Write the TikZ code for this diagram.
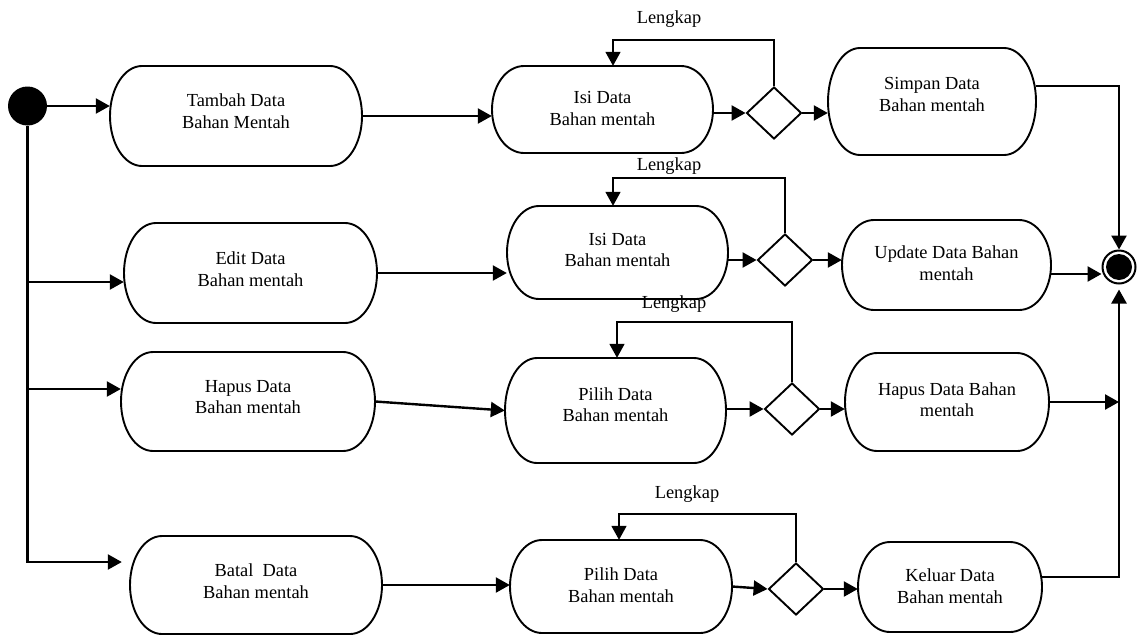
\documentclass[tikz,border=0pt]{standalone}
\usepackage{fontspec}
\setmainfont{Liberation Serif}
\usetikzlibrary{arrows.meta, shapes.geometric}

\tikzset{
  boxnode/.style={rectangle, draw=none, inner sep=0pt},
  boxline/.style={line width=1.9pt},
  boxtext/.style={align=center, inner sep=0pt, font=\fontsize{18.4}{21.5}\selectfont},
  guard/.style={inner sep=0pt, font=\fontsize{18.4}{21.5}\selectfont},
  decision/.style={diamond, draw, line width=1.9pt, inner sep=0pt,
                   minimum width=55pt, minimum height=52pt},
  tip/.style={-{Triangle[length=14pt, width=15pt]}},
  flow/.style={line width=2.4pt, tip},
  loopback/.style={line width=1.7pt, tip},
}

% activity box: name, left x, right x, top y, bottom y, text y, text
% (y values are measured downwards from the top edge)
\newcommand{\actbox}[7]{%
  \pgfmathsetmacro{\bxl}{#2}\pgfmathsetmacro{\bxr}{#3}%
  \pgfmathsetmacro{\byt}{-(#4)}\pgfmathsetmacro{\byb}{-(#5)}%
  \pgfmathsetmacro{\bry}{(#5-#4)/2}\pgfmathsetmacro{\brx}{32}%
  \node[boxnode, minimum width={#3-#2}, minimum height={#5-#4}] (#1)
       at ({(#2+#3)/2},{-(#4+#5)/2}) {};
  \draw[boxline] ({\bxl+\brx},\byt) -- ({\bxr-\brx},\byt)
     arc[start angle=90, end angle=-90, x radius=\brx pt, y radius=\bry pt]
     -- ({\bxl+\brx},\byb)
     arc[start angle=270, end angle=90, x radius=\brx pt, y radius=\bry pt]
     -- cycle;
  \node[boxtext] (#1-t) at ({(#2+#3)/2},{-(#6)}) {#7};
}

\begin{document}
\begin{tikzpicture}[x=1pt, y=1pt]
\useasboundingbox (0,0) rectangle (1139,-635);

% initial and final states
\node[circle, fill, minimum size=39pt, inner sep=0pt] (start) at (27.5,-106) {};
\node[circle, draw, line width=2pt, minimum size=33pt, inner sep=0pt] (final) at (1119,-267) {};
\node[circle, fill, minimum size=26pt, inner sep=0pt] (final-dot) at (final) {};

% activities
\actbox{tambah}{110}{362}{66}{166}{111}{Tambah Data\\Bahan Mentah}
\actbox{isi1}{492}{713}{66}{153}{108.5}{Isi Data\\Bahan mentah}
\actbox{simpan}{828}{1036}{48}{155}{94.5}{Simpan Data\\Bahan mentah}

\actbox{edit}{124}{377}{223}{323}{269}{Edit Data\\Bahan mentah}
\actbox{isi2}{507}{728}{206}{299}{250}{Isi Data\\Bahan mentah}
\actbox{update}{842}{1051}{220}{310}{263}{Update Data Bahan\\mentah}

\actbox{hapus}{121}{375}{352}{451}{397}{Hapus Data\\Bahan mentah}
\actbox{pilih}{505}{726}{358}{463}{404.5}{Pilih Data\\Bahan mentah}
\actbox{hapus2}{845}{1049}{353}{451}{399.5}{Hapus Data Bahan\\mentah}

\actbox{batal}{130}{382}{536}{634}{581}{Batal\ \ Data\\Bahan mentah}
\actbox{pilih2}{510}{732}{540}{633}{585}{Pilih Data\\Bahan mentah}
\actbox{keluar}{858}{1042}{542}{632}{586}{Keluar Data\\Bahan mentah}

% decisions
\node[decision] (d1) at (774,-113) {};
\node[decision] (d2) at (785,-260) {};
\node[decision] (d3) at (792,-409) {};
\node[decision] (d4) at (796,-589) {};

% guard labels
\node[guard] (lbl1) at (669,-19) {Lengkap};
\node[guard] (lbl2) at (669,-166) {Lengkap};
\node[guard] (lbl3) at (674,-304) {Lengkap};
\node[guard] (lbl4) at (687,-494) {Lengkap};

% fork points on the left trunk
\coordinate (br-edit) at (27.5,-282);
\coordinate (br-hapus) at (27.5,-389);
\coordinate (trunkend) at (27.5,-562);
\coordinate (u-out) at ([yshift=-9pt]update.east);

% trunk and branches
\draw[flow] (start) -- (start -| tambah.west);
\draw[flow, shorten >=8pt] (start) -- (trunkend) -- (trunkend -| batal.west);
\draw[flow] (br-edit) -- (br-edit -| edit.west);
\draw[flow] (br-hapus) -- (br-hapus -| hapus.west);

% row 1
\draw[flow] (tambah.east) -- (tambah.east -| isi1.west);
\draw[flow] (isi1.east |- d1) -- (d1.west);
\draw[flow] (d1.east) -- (d1.east -| simpan.west);
\draw[loopback] (d1.north) -- ++(0,46) -| ([xshift=10.5pt]isi1.north);
\draw[flow] ([yshift=15.5pt]simpan.east) -| (final.north);

% row 2
\draw[flow] (edit.east) -- (edit.east -| isi2.west);
\draw[flow] (isi2.east |- d2) -- (d2.west);
\draw[flow] (d2.east) -- (d2.east -| update.west);
\draw[loopback] (d2.north) -- ++(0,55) -| ([xshift=-4.5pt]isi2.north);
\draw[flow] (u-out) -- (u-out -| final.west);

% row 3
\draw[flow] (hapus.east) -- (pilih.west);
\draw[flow] (pilih.east |- d3) -- (d3.west);
\draw[flow] (d3.east) -- (d3.east -| hapus2.west);
\draw[loopback] (d3.north) -- ++(0,60) -| ([xshift=1.5pt]pilih.north);
\draw[flow] (hapus2.east) -- (hapus2.east -| final);

% row 4
\draw[flow] (batal.east) -- (batal.east -| pilih2.west);
\draw[flow] (pilih2.east) -- (d4.west);
\draw[flow] (d4.east) -- (d4.east -| keluar.west);
\draw[loopback] (d4.north) -- ++(0,48) -| ([xshift=-2pt]pilih2.north);
\draw[flow, shorten >=5pt] ([yshift=10pt]keluar.east) -| (final.south);
\end{tikzpicture}
\end{document}
